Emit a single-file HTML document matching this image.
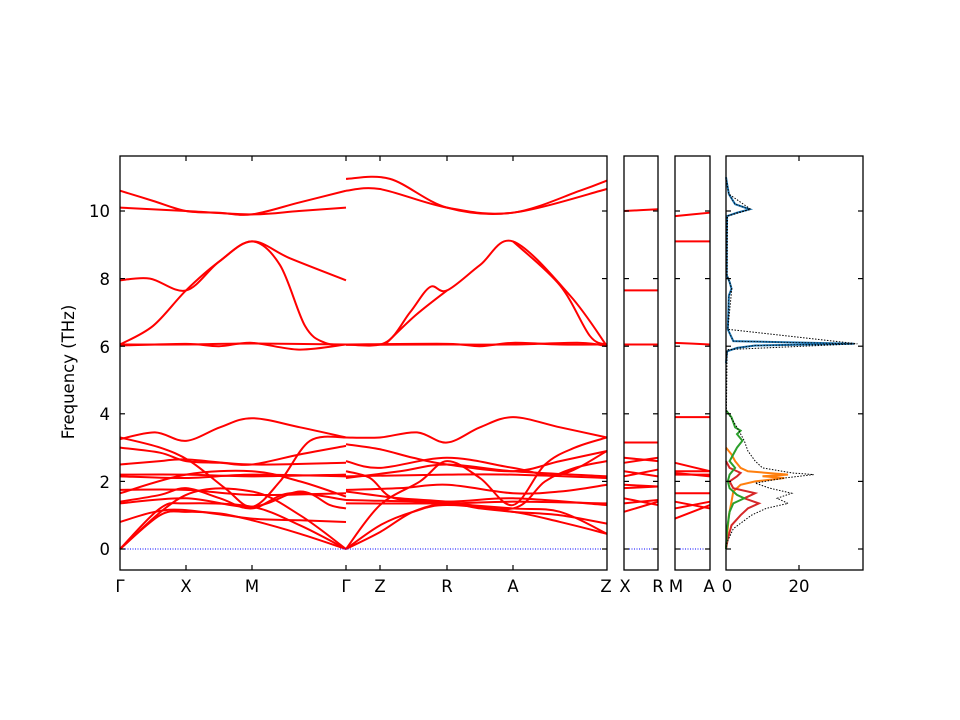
<!DOCTYPE html>
<html><head><meta charset="utf-8"><style>
html,body{margin:0;padding:0;background:#fff}
svg{display:block}
text{font-family:"DejaVu Sans","Liberation Sans",sans-serif;font-size:16.5px;fill:#000}
</style></head><body>
<svg id="s" width="960" height="720" xmlns="http://www.w3.org/2000/svg">
<g id="bands" fill="none" stroke="#ff0000" stroke-width="2"></g>
<g stroke="#0000ff" stroke-width="1" stroke-dasharray="1,1.5">
<line x1="120" y1="549" x2="607" y2="549"/><line x1="624" y1="549" x2="658" y2="549"/><line x1="675" y1="549" x2="710" y2="549"/>
</g>
<g id="dos" fill="none"></g>
<g fill="none" stroke="#000" stroke-width="1.3">
<rect x="120" y="156" width="487" height="414"/>
<rect x="624" y="156" width="34" height="414"/>
<rect x="675" y="156" width="35" height="414"/>
<rect x="726" y="156" width="137" height="414"/>
</g>
<g id="ticks" stroke="#000" stroke-width="1.2"></g>
<g text-anchor="end">
<text x="110" y="555">0</text><text x="110" y="488">2</text><text x="110" y="420">4</text><text x="110" y="353">6</text><text x="110" y="285">8</text><text x="110" y="217">10</text>
</g>
<g text-anchor="middle">
<text x="120" y="592">Γ</text><text x="186" y="592">X</text><text x="252" y="592">M</text><text x="346" y="592">Γ</text><text x="380" y="592">Z</text><text x="447" y="592">R</text><text x="513" y="592">A</text><text x="606" y="592">Z</text>
<text x="625" y="592">X</text><text x="658" y="592">R</text><text x="676" y="592">M</text><text x="709" y="592">A</text>
<text x="727" y="592">0</text><text x="799" y="592">20</text>
</g>
<text x="0" y="0" text-anchor="middle" transform="translate(74,372) rotate(-90)">Frequency (THz)</text>
</svg>
<script>
function Y(f){return 549-33.8*f}
function path(pts){pts=pts.map(p=>[p[0],Y(p[1])]);let d="M"+pts[0][0]+","+pts[0][1];
for(let i=0;i<pts.length-1;i++){const p0=pts[i-1]||pts[i],p1=pts[i],p2=pts[i+1],p3=pts[i+2]||p2;
d+=" C"+(p1[0]+(p2[0]-p0[0])/6)+","+(p1[1]+(p2[1]-p0[1])/6)+" "+(p2[0]-(p3[0]-p1[0])/6)+","+(p2[1]-(p3[1]-p1[1])/6)+" "+p2[0]+","+p2[1];}return d;}
const B=[
[[120,10.6],[153,10.3],[186,10.0],[219,9.95],[252,9.9],[299,10.25],[346,10.6]],
[[120,10.1],[186,10.0],[252,9.9],[299,10.0],[346,10.1]],
[[120,7.95],[150,8.0],[186,7.65],[219,8.5],[252,9.1],[280,8.4],[305,6.6],[325,6.1],[346,6.05]],
[[120,6.05],[153,6.6],[186,7.65],[219,8.5],[252,9.1],[290,8.6],[346,7.95]],
[[120,6.02],[186,6.07],[219,6.0],[252,6.1],[299,5.9],[346,6.05]],
[[120,6.05],[186,6.05],[252,6.08],[346,6.05]],
[[120,3.25],[155,3.45],[186,3.2],[220,3.6],[252,3.87],[300,3.6],[346,3.3]],
[[120,3.0],[160,2.85],[186,2.6],[220,2.55],[252,2.5],[300,2.8],[346,3.05]],
[[120,2.5],[160,2.6],[186,2.65],[252,2.5],[346,2.55]],
[[120,3.3],[160,3.0],[190,2.6],[225,1.8],[252,1.25],[280,2.0],[310,3.2],[346,3.3]],
[[120,2.15],[186,2.1],[252,2.2],[346,2.15]],
[[120,2.2],[186,2.2],[252,2.15],[346,2.2]],
[[120,1.75],[186,1.75],[252,1.6],[346,1.65]],
[[120,1.65],[186,2.2],[252,2.3],[300,2.0],[346,1.55]],
[[120,1.4],[160,1.6],[186,1.8],[220,1.5],[252,1.2],[290,1.65],[346,1.45]],
[[120,1.35],[186,1.5],[252,1.25],[300,1.7],[330,1.3],[346,1.2]],
[[120,0.8],[155,1.1],[186,1.15],[252,0.9],[300,0.85],[346,0.8]],
[[120,0],[160,1.2],[186,1.35],[252,1.25],[300,0.7],[346,0]],
[[120,0],[160,1.0],[186,1.1],[220,1.05],[252,0.85],[300,0.45],[346,0]],
[[120,0],[186,1.6],[252,1.7],[300,1.0],[346,0]],
[[346,10.95],[390,10.95],[447,10.1],[513,9.95],[580,10.6],[607,10.9]],
[[346,10.6],[380,10.65],[447,10.1],[513,9.95],[607,10.65]],
[[346,6.05],[385,6.1],[410,7.0],[430,7.75],[447,7.65],[480,8.4],[513,9.1],[570,7.5],[607,6.0]],
[[385,6.05],[415,6.9],[447,7.65]],
[[513,9.1],[560,7.8],[590,6.3],[607,6.05]],
[[346,6.05],[447,6.07],[480,6.0],[513,6.1],[560,6.05],[607,6.05]],
[[346,6.04],[447,6.05],[513,6.05],[580,6.1],[607,6.0]],
[[346,3.3],[380,3.3],[417,3.45],[447,3.15],[480,3.6],[513,3.9],[560,3.6],[607,3.3]],
[[346,3.1],[380,2.95],[413,2.7],[447,2.5],[513,2.3],[560,2.6],[607,2.9]],
[[346,2.3],[370,2.1],[390,1.55],[420,1.4],[447,1.35],[513,1.2],[560,1.1],[607,0.45]],
[[346,0],[380,0.7],[413,1.1],[447,1.3],[513,1.1],[560,0.8],[607,0.45]],
[[346,0],[380,0.5],[413,1.1],[447,1.35],[480,1.2],[513,1.1],[560,1.0],[607,0.75]],
[[346,0],[380,1.3],[420,2.0],[447,2.6],[480,2.1],[513,1.3],[545,2.5],[575,3.0],[607,3.3]],
[[346,2.15],[447,2.2],[513,2.2],[607,2.1]],
[[346,2.1],[400,2.3],[447,2.5],[513,2.3],[607,2.15]],
[[346,1.45],[447,1.4],[513,1.5],[607,1.3]],
[[346,1.35],[447,1.35],[513,1.4],[607,1.35]],
[[346,1.75],[400,1.8],[447,1.9],[513,1.65],[560,1.7],[607,1.9]],
[[346,1.7],[400,1.5],[447,1.4],[513,1.2],[545,2.0],[575,2.4],[607,2.6]],
[[346,2.6],[380,2.4],[447,2.7],[513,2.4],[560,2.2],[607,2.9]],
[[624,10.0],[658,10.05]],[[624,7.65],[658,7.65]],[[624,6.05],[658,6.05]],[[624,3.15],[658,3.15]],
[[624,2.7],[658,2.6]],[[624,2.55],[658,2.7]],[[624,2.3],[658,2.15]],[[624,2.15],[658,2.35]],
[[624,1.9],[658,1.85]],[[624,1.8],[658,1.85]],[[624,1.5],[658,1.3]],[[624,1.1],[658,1.4]],[[624,1.35],[658,1.45]],
[[675,9.85],[710,9.95]],[[675,9.1],[710,9.1]],[[675,6.1],[710,6.05]],[[675,3.9],[710,3.9]],
[[675,2.55],[710,2.3]],[[675,2.3],[710,2.3]],[[675,2.2],[710,2.2]],[[675,2.25],[710,2.15]],
[[675,1.65],[710,1.65]],[[675,1.4],[710,1.2]],[[675,1.2],[710,1.4]],[[675,0.9],[710,1.3]]
];
let h="";B.forEach(b=>h+='<path d="'+path(b)+'"/>');document.getElementById("bands").innerHTML=h;
function X(v){return 726+3.65*v}
function dos(pts,col,w,dash){let d=pts.map((p,i)=>(i?"L":"M")+X(p[1]).toFixed(1)+","+Y(p[0]).toFixed(1)).join(" ");
return '<path d="'+d+'" stroke="'+col+'" stroke-width="'+w+'"'+(dash?' stroke-dasharray="'+dash+'"':'')+'/>';}
const blue=[[11.0,0],[10.8,0.3],[10.5,0.8],[10.2,2.5],[10.05,6.5],[9.95,3],[9.85,0.3],[9.3,0.2],[8.1,0.2],[7.9,1.0],[7.7,1.5],[7.5,0.8],[6.5,0.5],[6.15,2],[6.07,35],[6.02,8],[5.95,3],[5.85,0.3],[5.5,0]];
const green=[[4.1,0],[3.9,1.5],[3.6,2.5],[3.5,4],[3.4,3],[3.2,4.5],[3.0,3],[2.8,2],[2.6,1],[2.4,2.5],[2.2,1],[2.0,0.5],[1.8,1],[1.6,3],[1.5,5],[1.35,2],[1.1,1],[0.6,0.3],[0,0]];
const orange=[[3.0,0],[2.8,1.5],[2.6,2.5],[2.4,4],[2.3,6],[2.2,17],[2.15,10],[2.1,16],[2.0,8],[1.9,4],[1.7,2],[1.4,1.5],[1.0,0.8],[0,0]];
const red=[[2.6,0],[2.4,1],[2.25,4],[2.15,3],[2.0,1],[1.8,2],[1.65,8],[1.5,5],[1.35,9],[1.2,6],[1.0,4],[0.7,1.5],[0.3,0.5],[0,0]];
const tot=[[11,0],[10.5,0.8],[10.05,6.8],[9.85,0.4],[8.1,0.3],[7.7,1.6],[6.5,0.5],[6.07,36],[5.9,0.3],[4.1,0.1],[3.6,3],[3.2,5],[2.9,6],[2.6,8],[2.4,10],[2.25,18],[2.2,24],[2.1,16],[1.95,8],[1.8,12],[1.65,18],[1.5,14],[1.35,17],[1.2,11],[1.0,7],[0.6,2],[0.2,0.3],[0,0]];
document.getElementById("dos").innerHTML=dos(blue,"#1f77b4",2)+dos(orange,"#ff7f0e",2)+dos(red,"#d62728",2)+dos(green,"#2ca02c",2)+dos(tot,"#000",1,"1.5,1.5")+dos(blue,"#000",0.8,"1.5,1.5");
let t="";const ys=[0,2,4,6,8,10];
[[120,607],[624,658],[675,710],[726,863]].forEach(p=>ys.forEach(f=>{const y=Y(f);t+='<line x1="'+p[0]+'" y1="'+y+'" x2="'+(p[0]+5)+'" y2="'+y+'"/><line x1="'+(p[1]-5)+'" y1="'+y+'" x2="'+p[1]+'" y2="'+y+'"/>';}));
[186,252,346,380,447,513,799].forEach(x=>{t+='<line x1="'+x+'" y1="570" x2="'+x+'" y2="565"/><line x1="'+x+'" y1="156" x2="'+x+'" y2="161"/>';});
document.getElementById("ticks").innerHTML=t;
</script>
</body></html>
